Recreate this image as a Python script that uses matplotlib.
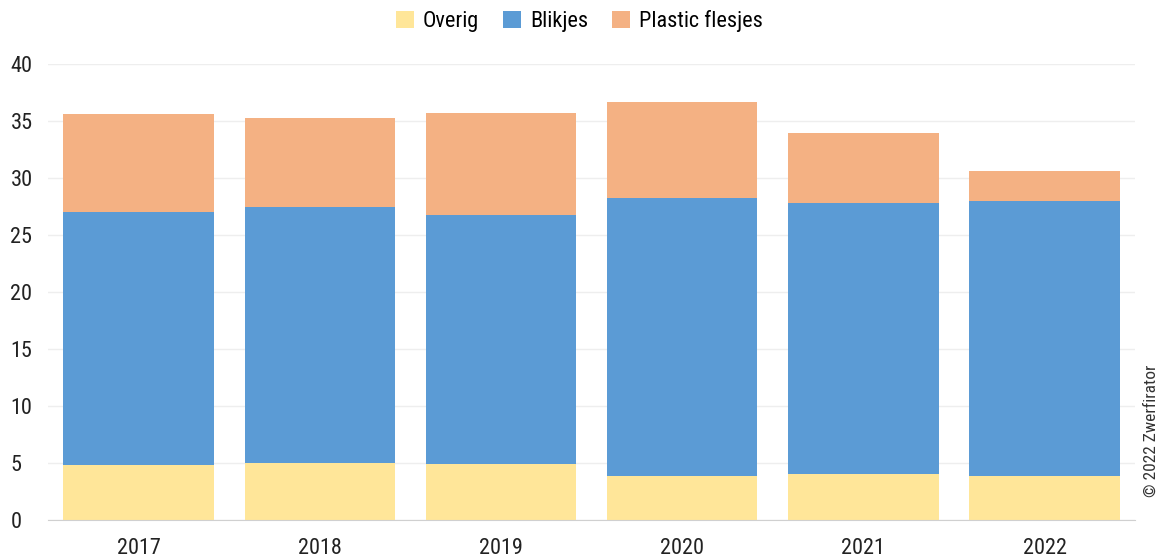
import matplotlib
matplotlib.use("Agg")
import matplotlib.pyplot as plt
import numpy as np

plt.rcParams['font.family'] = ['Roboto Condensed', 'Lato', 'DejaVu Sans']

years = ["2017", "2018", "2019", "2020", "2021", "2022"]
overig = [4.8, 5.0, 4.9, 3.9, 4.0, 3.9]
blikjes = [22.2, 22.5, 21.9, 24.4, 23.8, 24.1]
plastic = [8.6, 7.8, 8.9, 8.4, 6.2, 2.6]

series = [("Overig", overig, "#FFE699"),
          ("Blikjes", blikjes, "#5B9BD5"),
          ("Plastic flesjes", plastic, "#F4B183")]

fig = plt.figure(figsize=(11.59, 5.58), dpi=100)
ax = fig.add_axes([0.0414, 0.068, 0.938, 0.817])

x = np.arange(len(years))
bottom = np.zeros(len(years))
for name, vals, color in series:
    ax.bar(x, vals, width=0.83, bottom=bottom, color=color, label=name, zorder=2)
    bottom += np.array(vals)

ax.set_xlim(-0.5, len(years) - 0.5)
ax.set_ylim(0, 40)
ax.set_yticks(range(0, 41, 5))
ax.set_xticks(x)
ax.set_xticklabels(years)
ax.grid(axis="y", color="#EEEEEE", linewidth=1, zorder=0)
for s in ["top", "right", "left"]:
    ax.spines[s].set_visible(False)
ax.spines["bottom"].set_color("#D0D0D0")
ax.tick_params(axis="both", length=0, labelsize=16, colors="#222222")
ax.tick_params(axis="x", pad=13)
ax.tick_params(axis="y", pad=27)
for lbl in ax.get_yticklabels():
    lbl.set_horizontalalignment("left")

leg = fig.legend(loc="upper center", bbox_to_anchor=(0.5, 1.018), ncol=3,
                 frameon=False, fontsize=16, handlelength=0.8, handleheight=0.8,
                 columnspacing=1.1, handletextpad=0.4)

fig.text(0.9935, 0.11, "\u00a9 2022 Zwerfirator", rotation=90, fontsize=12.5,
         ha="center", va="bottom", color="#333333")

fig.savefig("out.png", dpi=100)
